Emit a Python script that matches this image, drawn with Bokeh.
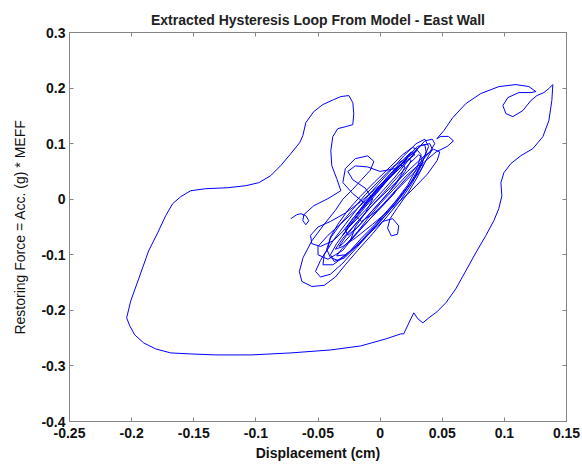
from bokeh.plotting import figure
from bokeh.models import Range1d, FixedTicker, LinearAxis, CustomJSTickFormatter
from bokeh.embed import file_html
from bokeh.resources import INLINE

# ---- data (displacement cm, restoring force) ----
# outer excursion: hook start -> upper-left lobe -> big left/bottom loop -> right side -> peak
outer_path = [
    (-0.0719, -0.0351), (-0.0671, -0.0279), (-0.0638, -0.0261), (-0.0598, -0.0297),
    (-0.0574, -0.0387), (-0.0598, -0.0459), (-0.0622, -0.0387), (-0.0614, -0.0279),
    (-0.0534, -0.0117), (-0.0421, 0.0009), (-0.0316, 0.0153), (-0.0349, 0.0369),
    (-0.0389, 0.0604), (-0.0397, 0.0874), (-0.0381, 0.1126), (-0.0341, 0.1270),
    (-0.0277, 0.1306), (-0.0220, 0.1342), (-0.0212, 0.1541), (-0.0220, 0.1739),
    (-0.0252, 0.1865), (-0.0316, 0.1847), (-0.0373, 0.1793), (-0.0461, 0.1703),
    (-0.0534, 0.1577), (-0.0598, 0.1378), (-0.0622, 0.1144), (-0.0647, 0.1018),
    (-0.0719, 0.0820), (-0.0800, 0.0604), (-0.0881, 0.0423), (-0.0977, 0.0297),
    (-0.1082, 0.0243), (-0.1226, 0.0207), (-0.1404, 0.0189), (-0.1524, 0.0153),
    (-0.1605, 0.0045), (-0.1670, -0.0081), (-0.1726, -0.0297), (-0.1790, -0.0604),
    (-0.1863, -0.0928), (-0.1943, -0.1432), (-0.2007, -0.1829), (-0.2040, -0.2135),
    (-0.2015, -0.2279), (-0.1975, -0.2441), (-0.1903, -0.2586), (-0.1806, -0.2694),
    (-0.1685, -0.2766), (-0.1524, -0.2784), (-0.1323, -0.2802), (-0.1041, -0.2802),
    (-0.0719, -0.2766), (-0.0397, -0.2712), (-0.0156, -0.2640), (0.0046, -0.2514),
    (0.0167, -0.2423), (0.0190, -0.2423), (0.0247, -0.2153), (0.0271, -0.2045),
    (0.0304, -0.2153), (0.0344, -0.2225), (0.0392, -0.2135), (0.0457, -0.2027),
    (0.0529, -0.1865), (0.0609, -0.1613), (0.0690, -0.1288), (0.0770, -0.0964),
    (0.0850, -0.0658), (0.0915, -0.0387), (0.0955, -0.0171), (0.0980, 0.0063),
    (0.0972, 0.0297), (0.0996, 0.0477), (0.1052, 0.0640), (0.1133, 0.0784),
    (0.1229, 0.0910), (0.1310, 0.1126), (0.1358, 0.1414), (0.1382, 0.1775),
    (0.1390, 0.2063), (0.1358, 0.1991), (0.1318, 0.1919), (0.1262, 0.1865),
    (0.1213, 0.1775), (0.1149, 0.1595), (0.1068, 0.1486), (0.1012, 0.1541),
    (0.0988, 0.1685), (0.1028, 0.1829), (0.1117, 0.1919), (0.1213, 0.1919),
    (0.1254, 0.1937), (0.1197, 0.2027), (0.1093, 0.2063), (0.0956, 0.2027),
    (0.0810, 0.1901), (0.0690, 0.1721), (0.0585, 0.1468), (0.0513, 0.1234),
    (0.0457, 0.1090),
]

# dense small-amplitude cycling around the origin
scribble_path = [
    (0.049, 0.113), (0.055, 0.113), (0.059, 0.105), (0.054, 0.095), (0.045, 0.085),
    (0.036, 0.068), (0.026, 0.045), (0.014, 0.018), (0.002, -0.012), (-0.010, -0.040),
    (-0.022, -0.068), (-0.031, -0.090), (-0.035, -0.102), (-0.028, -0.100), (-0.018, -0.082),
    (-0.006, -0.055), (0.006, -0.025), (0.018, 0.008), (0.028, 0.040), (0.035, 0.072),
    (0.039, 0.095), (0.036, 0.108), (0.029, 0.100), (0.019, 0.078), (0.007, 0.048),
    (-0.006, 0.016), (-0.018, -0.016), (-0.028, -0.045), (-0.038, -0.075), (-0.045, -0.100),
    (-0.046, -0.118), (-0.038, -0.118), (-0.027, -0.100), (-0.014, -0.072), (-0.001, -0.040),
    (0.011, -0.008), (0.022, 0.025), (0.030, 0.058), (0.033, 0.080), (0.030, 0.088),
    (0.022, 0.075), (0.011, 0.050), (0.000, 0.022), (-0.012, -0.008),
    (-0.022, 0.010), (-0.030, 0.030), (-0.028, 0.055), (-0.020, 0.073), (-0.010, 0.078),
    (-0.005, 0.068), (-0.008, 0.052), (-0.015, 0.035), (-0.022, 0.018), (-0.030, 0.000),
    (-0.036, -0.020),
    (-0.045, -0.045), (-0.055, -0.075), (-0.062, -0.105), (-0.065, -0.130), (-0.063, -0.148),
    (-0.055, -0.157), (-0.045, -0.155), (-0.036, -0.140), (-0.028, -0.118), (-0.018, -0.092),
    (-0.006, -0.062), (0.006, -0.030), (0.017, 0.000), (0.026, 0.030), (0.033, 0.060),
    (0.037, 0.085), (0.036, 0.098), (0.030, 0.095), (0.020, 0.072), (0.009, 0.042),
    (-0.003, 0.010), (-0.015, -0.022), (-0.026, -0.052), (-0.035, -0.080), (-0.040, -0.100),
    (-0.037, -0.112), (-0.029, -0.106), (-0.019, -0.085),
    (-0.008, -0.060), (0.002, -0.040), (0.010, -0.035), (0.015, -0.048), (0.014, -0.063),
    (0.009, -0.066), (0.006, -0.052), (0.008, -0.035), (0.014, -0.015), (0.022, 0.010),
    (0.030, 0.040), (0.037, 0.070), (0.042, 0.090), (0.040, 0.100), (0.033, 0.097),
    (0.023, 0.077), (0.012, 0.050), (0.000, 0.020), (-0.012, -0.010), (-0.022, -0.035),
    (-0.030, -0.058),
    (-0.038, -0.075), (-0.048, -0.085), (-0.055, -0.080), (-0.056, -0.065), (-0.050, -0.050),
    (-0.040, -0.040), (-0.028, -0.025), (-0.016, -0.005), (-0.004, 0.018), (0.008, 0.040),
    (0.018, 0.060), (0.026, 0.078), (0.030, 0.090), (0.026, 0.093), (0.018, 0.080),
    (0.008, 0.058), (-0.004, 0.032), (-0.016, 0.005), (-0.026, -0.020), (-0.034, -0.045),
    (-0.040, -0.068), (-0.042, -0.088),
    (-0.048, -0.110), (-0.052, -0.130), (-0.048, -0.140), (-0.040, -0.135), (-0.030, -0.115),
    (-0.020, -0.090), (-0.008, -0.060), (0.004, -0.030), (0.015, 0.000), (0.024, 0.028),
    (0.031, 0.055), (0.034, 0.075), (0.031, 0.080), (0.024, 0.065), (0.014, 0.040),
    (0.003, 0.012), (-0.009, -0.018), (-0.020, -0.045), (-0.030, -0.070), (-0.036, -0.090),
    (-0.030, -0.085), (-0.020, -0.070), (-0.006, -0.045), (0.010, -0.015), (0.025, 0.015),
    (0.038, 0.045), (0.046, 0.070), (0.048, 0.085), (0.043, 0.090), (0.034, 0.075),
    (0.022, 0.050), (0.008, 0.020), (-0.006, -0.010), (-0.018, -0.040), (-0.027, -0.065),
    (-0.033, -0.085),
    (-0.030, -0.080), (-0.022, -0.060), (-0.012, -0.035), (-0.002, -0.010), (0.008, 0.015),
    (0.016, 0.040), (0.020, 0.058), (0.016, 0.062), (0.008, 0.045), (-0.002, 0.020),
    (-0.012, -0.008), (-0.022, -0.035), (-0.028, -0.055), (-0.026, -0.065), (-0.018, -0.050),
    (-0.008, -0.025), (0.002, 0.000), (0.012, 0.025), (0.020, 0.050), (0.025, 0.070),
    (0.022, 0.073), (0.014, 0.055), (0.004, 0.030), (-0.006, 0.005), (-0.016, -0.022),
    (-0.024, -0.045), (-0.030, -0.065),
    (-0.025, -0.050), (-0.012, -0.020), (0.000, 0.010), (0.012, 0.040), (0.022, 0.068),
    (0.030, 0.090), (0.036, 0.105), (0.042, 0.108), (0.044, 0.100), (0.040, 0.085),
    (0.032, 0.065), (0.022, 0.040), (0.010, 0.010), (-0.002, -0.020), (-0.014, -0.050),
    (-0.024, -0.075), (-0.030, -0.092),
    (-0.036, -0.100), (-0.042, -0.108), (-0.050, -0.100), (-0.050, -0.085), (-0.042, -0.065),
    (-0.032, -0.045), (-0.020, -0.020), (-0.008, 0.005), (0.004, 0.030), (0.014, 0.052),
    (0.020, 0.065), (0.018, 0.070), (0.010, 0.058), (0.000, 0.035), (-0.012, 0.008),
    (-0.022, -0.018), (-0.032, -0.045), (-0.040, -0.070), (-0.043, -0.090),
    (-0.040, -0.105), (-0.034, -0.110), (-0.025, -0.095), (-0.015, -0.070), (-0.004, -0.045),
    (0.006, -0.020), (0.016, 0.005), (0.025, 0.030), (0.032, 0.050), (0.035, 0.062),
    (0.030, 0.060), (0.021, 0.042), (0.011, 0.018), (0.000, -0.008), (-0.010, -0.035),
    (-0.018, -0.058), (-0.024, -0.075),
    (-0.020, -0.050), (-0.012, -0.025), (-0.006, 0.000), (-0.012, 0.020), (-0.022, 0.035),
    (-0.026, 0.050), (-0.020, 0.060), (-0.010, 0.058), (0.000, 0.050), (0.012, 0.055),
    (0.022, 0.070), (0.028, 0.080), (0.025, 0.085),
    (0.018, 0.070), (0.008, 0.045), (-0.004, 0.015), (-0.014, -0.012), (-0.020, -0.030),
    (-0.015, -0.040), (-0.005, -0.025), (0.005, -0.005), (0.012, 0.012),
]

x_ticks = [-0.25, -0.2, -0.15, -0.1, -0.05, 0, 0.05, 0.1, 0.15]
y_ticks = [-0.4, -0.3, -0.2, -0.1, 0, 0.1, 0.2, 0.3]

title_text = "Extracted Hysteresis Loop From Model - East Wall"
x_label = "Displacement (cm)"
y_label = "Restoring Force = Acc. (g) * MEFF"

path = outer_path + scribble_path
disp = [pt[0] for pt in path]
force = [pt[1] for pt in path]

FONT = "Liberation Sans"
GRAY = "#858585"

p = figure(width=582, height=468,
           x_range=Range1d(-0.25, 0.15), y_range=Range1d(-0.4, 0.3),
           output_backend="svg", toolbar_location=None,
           min_border_left=69, min_border_right=16,
           min_border_top=32, min_border_bottom=47,
           title=title_text, x_axis_label=x_label, y_axis_label=y_label)

p.line(disp, force, line_color="#0000ff", line_width=1)

p.xgrid.visible = False
p.ygrid.visible = False
p.outline_line_color = GRAY
p.background_fill_color = "white"
p.border_fill_color = "white"

p.title.text_font = FONT
p.title.text_font_size = "14px"
p.title.text_font_style = "bold"
p.title.align = "center"
p.title.text_color = "#222222"

fmt = CustomJSTickFormatter(code="return String(parseFloat(tick.toFixed(3)));")

for ax, ticks in ((p.xaxis[0], x_ticks), (p.yaxis[0], y_ticks)):
    ax.ticker = FixedTicker(ticks=ticks)
    ax.formatter = fmt
    ax.axis_line_color = GRAY
    ax.major_tick_line_color = GRAY
    ax.major_tick_in = 4
    ax.major_tick_out = 0
    ax.minor_tick_line_color = None
    ax.major_label_text_font = FONT
    ax.major_label_text_font_size = "14px"
    ax.major_label_text_font_style = "bold"
    ax.major_label_text_color = "#111111"
    ax.axis_label_text_font = FONT
    ax.axis_label_text_font_size = "14px"
    ax.axis_label_text_color = "#111111"

p.xaxis[0].major_label_standoff = 6
p.xaxis[0].axis_label_standoff = 4
p.xaxis[0].axis_label_text_font_style = "bold"
p.yaxis[0].major_label_standoff = 4
p.yaxis[0].axis_label_standoff = 10
p.yaxis[0].axis_label_text_font_style = "normal"

for loc, ticks in (("above", x_ticks), ("right", y_ticks)):
    ax = LinearAxis(ticker=FixedTicker(ticks=ticks),
                    axis_line_color=GRAY, major_tick_line_color=GRAY,
                    major_tick_in=4, major_tick_out=0,
                    minor_tick_line_color=None,
                    major_label_text_font_size="0px",
                    major_label_text_color=None,
                    major_label_standoff=0)
    p.add_layout(ax, loc)

open("out.html", "w").write(file_html(p, INLINE))
